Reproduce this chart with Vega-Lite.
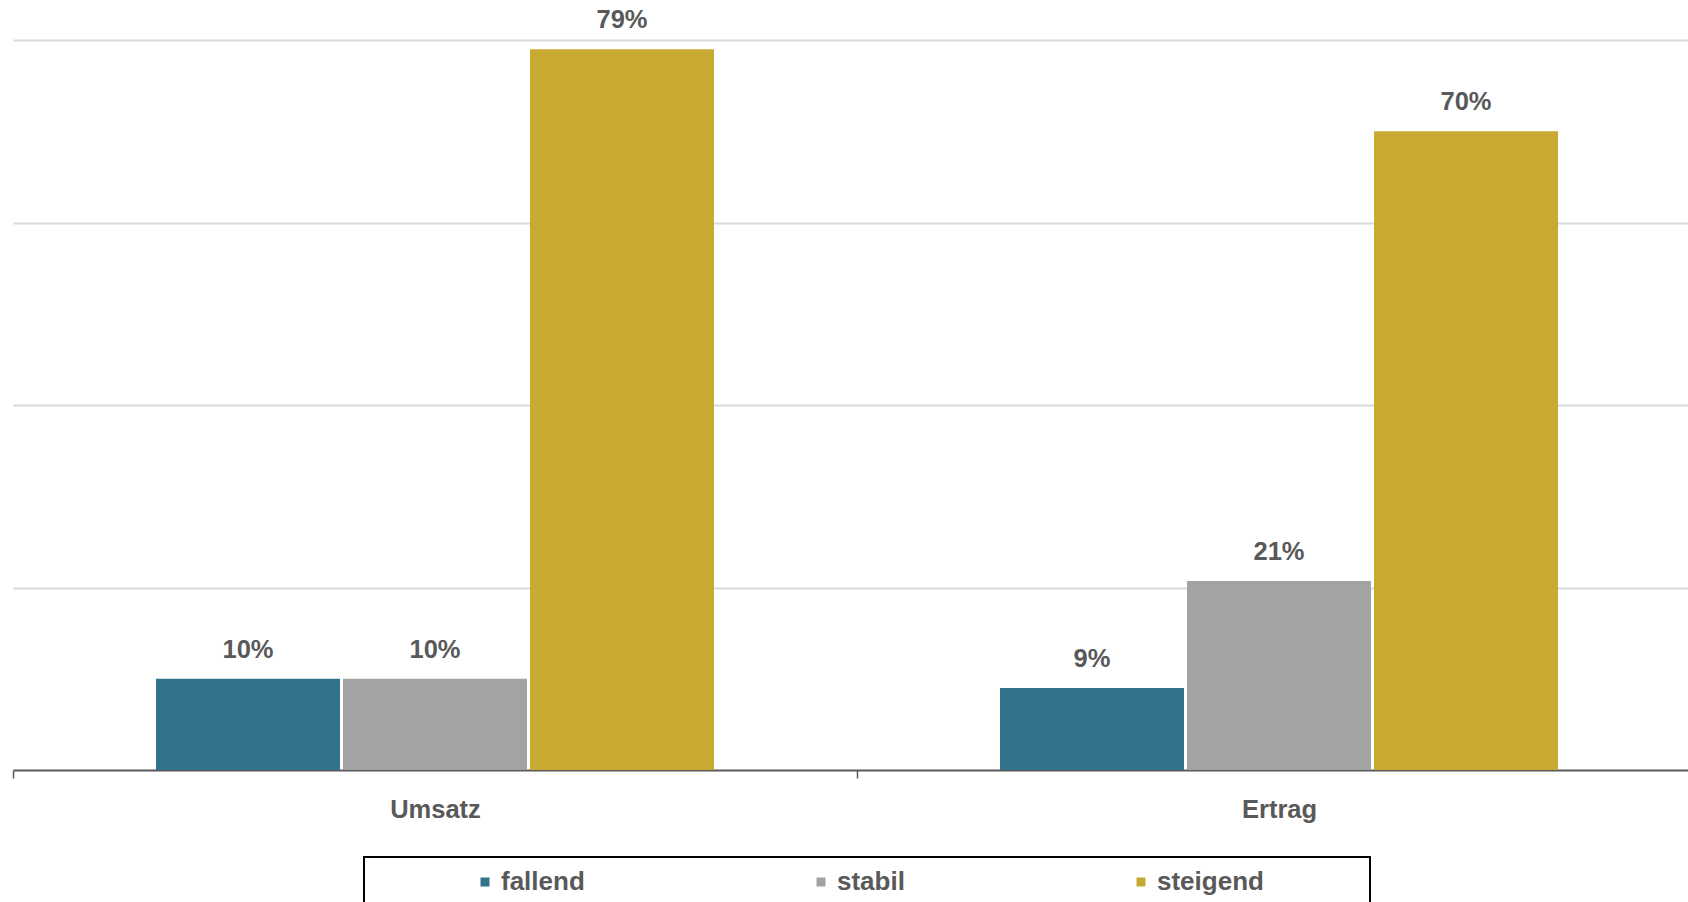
{
  "$schema": "https://vega.github.io/schema/vega-lite/v6.json",
  "autosize": {"type": "none"},
  "padding": {"left": 13, "top": 40, "right": 0, "bottom": 132},
  "width": 1675,
  "height": 730,
  "background": "#ffffff",
  "data": {
    "values": [
      {"kategorie": "Umsatz", "entwicklung": "fallend", "anteil": 0.10},
      {"kategorie": "Umsatz", "entwicklung": "stabil", "anteil": 0.10},
      {"kategorie": "Umsatz", "entwicklung": "steigend", "anteil": 0.79},
      {"kategorie": "Ertrag", "entwicklung": "fallend", "anteil": 0.09},
      {"kategorie": "Ertrag", "entwicklung": "stabil", "anteil": 0.207},
      {"kategorie": "Ertrag", "entwicklung": "steigend", "anteil": 0.70}
    ]
  },
  "encoding": {
    "x": {
      "field": "kategorie",
      "type": "nominal",
      "sort": ["Umsatz", "Ertrag"],
      "scale": {"range": [0, 1688], "paddingInner": 0, "paddingOuter": 0},
      "axis": {
        "title": null,
        "labelAngle": 0,
        "tickBand": "extent",
        "ticks": true,
        "tickSize": 8,
        "tickWidth": 1.5,
        "tickColor": "#595959",
        "domainColor": "#595959",
        "domainWidth": 2,
        "grid": false,
        "labelFont": "Liberation Sans",
        "labelFontSize": 25.5,
        "labelFontWeight": "bold",
        "labelColor": "#595959",
        "labelPadding": 19
      }
    },
    "xOffset": {
      "field": "entwicklung",
      "type": "nominal",
      "sort": ["fallend", "stabil", "steigend"],
      "scale": {"paddingInner": 0.016, "paddingOuter": 0.7647}
    },
    "y": {
      "field": "anteil",
      "type": "quantitative",
      "scale": {"domain": [0, 0.8], "nice": false},
      "axis": {
        "title": null,
        "labels": false,
        "ticks": false,
        "domain": false,
        "grid": true,
        "gridColor": "#D9D9D9",
        "gridWidth": 2,
        "values": [0.2, 0.4, 0.6, 0.8]
      }
    }
  },
  "layer": [
    {
      "mark": {"type": "bar"},
      "encoding": {
        "color": {
          "field": "entwicklung",
          "type": "nominal",
          "sort": ["fallend", "stabil", "steigend"],
          "scale": {"domain": ["fallend", "stabil", "steigend"], "range": ["#33728B", "#A3A3A3", "#C8AA33"]},
          "legend": {
            "orient": "none",
            "direction": "horizontal",
            "legendX": 351,
            "legendY": 817,
            "title": " ",
            "titleOrient": "left",
            "titlePadding": 96,
            "titleFontSize": 24,
            "titleFont": "Liberation Sans",
            "padding": 12,
            "strokeColor": "#000000",
            "symbolType": "square",
            "symbolSize": 81,
            "symbolStrokeWidth": 0,
            "labelOffset": 3,
            "columnPadding": 223,
            "labelLimit": 500,
            "labelFont": "Liberation Sans",
            "labelFontSize": 26,
            "labelFontWeight": "bold",
            "labelColor": "#595959",
            "labelExpr": "datum.label == 'steigend' ? datum.label + '\u00a0\u00a0\u00a0\u00a0\u00a0\u00a0\u00a0\u00a0\u00a0\u00a0\u00a0\u00a0\u00a0\u200b' : datum.label",
            "encode": {"legend": {"update": {"strokeWidth": {"value": 2}}}}
          }
        }
      }
    },
    {
      "mark": {
        "type": "text",
        "baseline": "alphabetic",
        "dy": -21,
        "font": "Liberation Sans",
        "fontSize": 25.5,
        "fontWeight": "bold",
        "color": "#595959"
      },
      "encoding": {
        "text": {"field": "anteil", "type": "quantitative", "format": ".0%"}
      }
    }
  ],
  "config": {
    "view": {"stroke": null}
  }
}
